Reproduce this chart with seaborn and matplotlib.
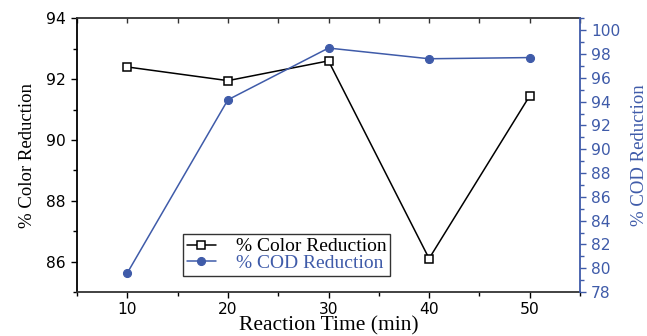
import matplotlib
matplotlib.use("Agg")
import matplotlib.pyplot as plt
import seaborn as sns
import pandas as pd
from matplotlib.ticker import MultipleLocator

time_min = [10, 20, 30, 40, 50]
color_reduction = [92.4, 91.95, 92.6, 86.1, 91.45]
cod_reduction = [79.6, 94.15, 98.5, 97.6, 97.7]

BLUE = "#3F5BA9"

sns.set_theme(style="white")
plt.rcParams["font.family"] = ["DejaVu Sans"]
plt.rcParams["text.color"] = "black"
plt.rcParams["axes.labelcolor"] = "black"
plt.rcParams["xtick.color"] = "black"
plt.rcParams["ytick.color"] = "black"

df = pd.DataFrame({"time": time_min, "color": color_reduction, "cod": cod_reduction})

fig = plt.figure(figsize=(6.47, 3.36), dpi=100)
ax = fig.add_axes([77/647, 1-292/336, (580-77)/647, (292-18.3)/336])
ax2 = ax.twinx()

sns.lineplot(data=df, x="time", y="color", ax=ax, color="black", marker="s",
             markersize=5.2, markerfacecolor="white", markeredgecolor="black",
             markeredgewidth=1.1, linewidth=1.1, label="% Color Reduction", legend=False)
sns.lineplot(data=df, x="time", y="cod", ax=ax2, color=BLUE, marker="o",
             markersize=5.8, markerfacecolor=BLUE, markeredgecolor=BLUE,
             linewidth=1.1, label="% COD Reduction", legend=False)

ax.set_xlim(5, 55)
ax.set_ylim(85, 94)
ax2.set_ylim(78, 101)

ax.xaxis.set_major_locator(MultipleLocator(10))
ax.xaxis.set_minor_locator(MultipleLocator(5))
ax.yaxis.set_major_locator(MultipleLocator(2))
ax.yaxis.set_minor_locator(MultipleLocator(1))
ax2.yaxis.set_major_locator(MultipleLocator(2))
ax2.yaxis.set_minor_locator(MultipleLocator(1))

serif = "Liberation Serif"
ax.set_xlabel("Reaction Time (min)", fontfamily=serif, fontsize=15.5, labelpad=0, color="black")
ax.set_ylabel("% Color Reduction", fontfamily=serif, fontsize=13.5, labelpad=7, color="black")
ax2.set_ylabel("% COD Reduction", fontfamily=serif, fontsize=13.5, color=BLUE, labelpad=8)

TS = 11.2
ax.tick_params(axis="x", which="both", bottom=True, top=False, labelsize=TS, colors="black", pad=3)
ax.tick_params(axis="x", which="major", direction="out", length=4, width=1)
ax.tick_params(axis="x", which="minor", direction="out", length=3, width=1)
ax.tick_params(axis="y", which="both", left=True, right=False, direction="out",
               labelsize=TS, pad=4, colors="black")
ax.tick_params(axis="y", which="major", length=4, width=1)
ax.tick_params(axis="y", which="minor", length=3, width=1)
ax2.tick_params(axis="y", which="both", right=True, direction="out", colors=BLUE, labelsize=TS, pad=4)
ax2.tick_params(axis="y", which="major", length=4, width=1)
ax2.tick_params(axis="y", which="minor", length=3, width=1)

# top ticks pointing inward
sec = ax.secondary_xaxis("top")
sec.xaxis.set_major_locator(MultipleLocator(10))
sec.xaxis.set_minor_locator(MultipleLocator(5))
sec.tick_params(axis="x", which="both", direction="in", labeltop=False, length=3.5, width=1, colors="#333333")
sec.spines["top"].set_visible(False)

for name, sp in ax.spines.items():
    sp.set_linewidth(1.3)
    sp.set_color("#333333")
ax.spines["left"].set_color("black")
ax.spines["right"].set_visible(False)
for name, sp in ax2.spines.items():
    sp.set_visible(False)
ax2.spines["right"].set_visible(True)
ax2.spines["right"].set_color(BLUE)
ax2.spines["right"].set_linewidth(1.3)

for lab in ax2.get_yticklabels():
    lab.set_color(BLUE)

h1, l1 = ax.get_legend_handles_labels()
h2, l2 = ax2.get_legend_handles_labels()
leg = ax2.legend(h1 + h2, l1 + l2, loc="lower left",
                 bbox_to_anchor=(183/647, 1-276/336), bbox_transform=fig.transFigure,
                 prop={"family": serif, "size": 14}, frameon=True, fancybox=False,
                 edgecolor="black", labelspacing=-0.05, borderpad=0.2,
                 handlelength=1.5, handletextpad=1.0, borderaxespad=0)
leg.get_frame().set_linewidth(1.0)
leg.get_texts()[0].set_color("black")
leg.get_texts()[1].set_color(BLUE)

fig.savefig("out.png", dpi=100)
